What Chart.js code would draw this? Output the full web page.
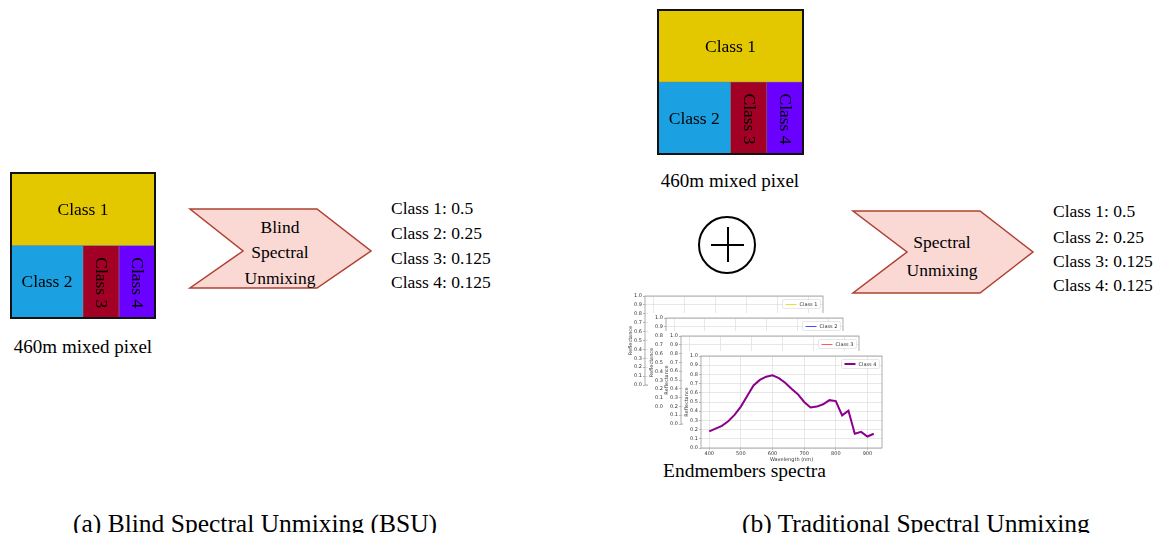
<!DOCTYPE html>
<html>
<head>
<meta charset="utf-8">
<script src="https://cdn.jsdelivr.net/npm/chart.js@4/dist/chart.umd.min.js"></script>
<style>
  html, body { margin: 0; padding: 0; background: #fff; }
  #page { position: relative; width: 1157px; height: 533px; overflow: hidden; background: #fff; }
  #art { position: absolute; left: 0; top: 0; }
  .box { position: absolute; }
  .spec { position: absolute; background: #fff; }
  .serif { font-family: "Liberation Serif", "Times New Roman", serif; fill: #000; }
</style>
</head>
<body>
<div id="page">
  <svg id="art" width="1157" height="533">
    <!-- unmixing arrows -->
    <polygon points="190,209 317,209 371,251 317,288 190,288 243,251" fill="#fad9d5" stroke="#ae4132" stroke-width="1.5"/>
    <polygon points="853,211 980,211 1033,252 980,293 853,293 907,252" fill="#fad9d5" stroke="#ae4132" stroke-width="1.5"/>
    <!-- combination symbol -->
    <circle cx="727" cy="245" r="28" fill="none" stroke="#000" stroke-width="2"/>
    <line x1="711" y1="245" x2="744" y2="245" stroke="#000" stroke-width="2"/>
    <line x1="728" y1="227" x2="728" y2="262" stroke="#000" stroke-width="2"/>

    <g class="serif" font-size="17.5">
      <text x="280" y="233" text-anchor="middle">Blind</text>
      <text x="280" y="258" text-anchor="middle">Spectral</text>
      <text x="280" y="284" text-anchor="middle">Unmixing</text>
      <text x="942" y="248" text-anchor="middle">Spectral</text>
      <text x="942" y="276" text-anchor="middle">Unmixing</text>
    </g>
    <g class="serif" font-size="17.5" id="listA"></g>
    <g class="serif" font-size="17.5" id="listB"></g>
    <g class="serif" font-size="19">
      <text x="83" y="353" text-anchor="middle">460m mixed pixel</text>
      <text x="730" y="187" text-anchor="middle">460m mixed pixel</text>
    </g>
    <text class="serif" font-size="19.5" x="663" y="477">Endmembers spectra</text>
    <g class="serif" font-size="25.5">
      <text x="73" y="532">(a) Blind Spectral Unmixing (BSU)</text>
      <text x="742" y="532">(b) Traditional Spectral Unmixing</text>
    </g>
  </svg>

  <div class="box" style="left:9px;top:171px;width:148px;height:149px"><canvas id="pixelA"></canvas></div>
  <div class="box" style="left:656px;top:8px;width:149px;height:148px"><canvas id="pixelB"></canvas></div>

  <div class="spec" style="left:627px;top:291px;width:208px;height:109px"><canvas id="spec1"></canvas></div>
  <div class="spec" style="left:648px;top:313px;width:207px;height:109px"><canvas id="spec2"></canvas></div>
  <div class="spec" style="left:663px;top:331px;width:208px;height:108px"><canvas id="spec3"></canvas></div>
  <div class="spec" style="left:683px;top:351px;width:211px;height:112px"><canvas id="spec4"></canvas></div>
</div>

<script>
// ---- data ----
const classNames = ['Class 1', 'Class 2', 'Class 3', 'Class 4'];
const abundances = [0.5, 0.25, 0.125, 0.125];
const tileRow = [0, 1, 1, 1];            // row of the pixel tile each class occupies

const wavelengths = [400, 420, 440, 460, 480, 500, 520, 540, 560, 580, 600, 620, 640, 660,
                     680, 700, 720, 740, 760, 780, 800, 820, 840, 860, 880, 900, 920];
const class4Reflectance = [0.18, 0.21, 0.24, 0.29, 0.36, 0.45, 0.565, 0.68, 0.74, 0.775, 0.79,
                           0.76, 0.71, 0.645, 0.585, 0.50, 0.44, 0.45, 0.475, 0.52, 0.51,
                           0.355, 0.405, 0.155, 0.175, 0.125, 0.155];
const class1Reflectance = [];
const class2Reflectance = [];
const class3Reflectance = [];

const wavelengthTicks = [400, 500, 600, 700, 800, 900];
const reflectanceTicks = [0, 0.1, 0.2, 0.3, 0.4, 0.5, 0.6, 0.7, 0.8, 0.9, 1.0];

// ---- abundance lists beside the arrows ----
function writeList(id, x, baselines) {
  const g = document.getElementById(id);
  classNames.forEach((name, i) => {
    const t = document.createElementNS('http://www.w3.org/2000/svg', 'text');
    t.setAttribute('x', x);
    t.setAttribute('y', baselines[i]);
    t.textContent = name + ': ' + abundances[i];
    g.appendChild(t);
  });
}
writeList('listA', 391, [214, 239, 264, 288]);
writeList('listB', 1053, [217, 243, 267, 291]);

Chart.defaults.font.family = 'DejaVu Sans';

// ---- mixed pixel tile: one stacked bar per row, widths = abundances ----
const tileColors = ['#e3c800', '#1ba1e2', '#a20025', '#6a00ff'];

const tileLabels = {
  id: 'tileLabels',
  afterDatasetsDraw(chart, args, opts) {
    const ctx = chart.ctx;
    ctx.save();
    ctx.font = opts.font;
    ctx.fillStyle = '#000';
    ctx.textAlign = 'center';
    ctx.textBaseline = 'middle';
    chart.data.datasets.forEach((ds, i) => {
      const meta = chart.getDatasetMeta(i);
      meta.data.forEach((bar, j) => {
        if (ds.data[j] == null) return;
        const p = bar.getProps(['x', 'y', 'base'], true);
        const cx = (p.x + p.base) / 2;
        const w = Math.abs(p.x - p.base);
        const tw = ctx.measureText(ds.label).width;
        ctx.save();
        ctx.translate(cx, p.y + 1);
        if (tw > w - 6) ctx.rotate(Math.PI / 2);
        ctx.fillText(ds.label, 0, 0);
        ctx.restore();
      });
    });
    const a = chart.chartArea;
    ctx.lineWidth = 2;
    ctx.strokeStyle = '#111';
    ctx.strokeRect(a.left, a.top, a.width, a.height);
    ctx.restore();
  }
};

function rowSum(r) {
  return abundances.reduce((s, v, i) => s + (tileRow[i] === r ? v : 0), 0);
}

function pixelTile(canvasId) {
  const rows = [0, 1];
  return new Chart(document.getElementById(canvasId), {
    type: 'bar',
    data: {
      labels: ['upper', 'lower'],
      datasets: classNames.map((name, i) => ({
        label: name,
        data: rows.map(r => (tileRow[i] === r ? abundances[i] : null)),
        backgroundColor: tileColors[i],
        borderColor: 'rgba(0,0,0,0.45)',
        borderWidth: 0.6,
        borderSkipped: false,
        barPercentage: 1,
        categoryPercentage: 1
      }))
    },
    options: {
      indexAxis: 'y',
      responsive: true,
      maintainAspectRatio: false,
      animation: false,
      devicePixelRatio: 1,
      layout: { padding: 2 },
      scales: {
        x: { stacked: true, display: false, min: 0, max: Math.max(rowSum(0), rowSum(1)) },
        y: { stacked: true, display: false }
      },
      plugins: {
        legend: { display: false },
        tooltip: { enabled: false },
        tileLabels: { font: '17.5px "Liberation Serif", "Times New Roman", serif' }
      }
    },
    plugins: [tileLabels]
  });
}
pixelTile('pixelA');
pixelTile('pixelB');

// ---- endmember spectra panels ----
// frame around the plot area plus a small legend box in its upper right corner
const panelFrame = {
  id: 'panelFrame',
  afterDraw(chart) {
    const a = chart.chartArea;
    const ctx = chart.ctx;
    ctx.save();
    ctx.strokeStyle = '#9a9a9a';
    ctx.lineWidth = 0.8;
    ctx.strokeRect(a.left, a.top, a.width, a.height);

    const ds = chart.data.datasets[0];
    ctx.font = '5px "DejaVu Sans"';
    const tw = ctx.measureText(ds.label).width;
    const sample = 11, gap = 3, pad = 3, h = 9;
    const w = pad + sample + gap + tw + pad;
    const x0 = Math.round(a.right - 3 - w) + 0.5, y0 = Math.round(a.top + 3) + 0.5;
    ctx.fillStyle = 'rgba(255,255,255,0.9)';
    ctx.strokeStyle = '#d6d6d6';
    ctx.lineWidth = 0.6;
    ctx.beginPath();
    ctx.roundRect(x0, y0, w, h, 1.5);
    ctx.fill();
    ctx.stroke();
    const ly = Math.floor(y0 + h / 2) + (ds.borderWidth % 2 ? 0.5 : 0);
    ctx.strokeStyle = ds.borderColor;
    ctx.lineWidth = Math.max(1, ds.borderWidth);
    ctx.beginPath();
    ctx.moveTo(x0 + pad, ly);
    ctx.lineTo(x0 + pad + sample, ly);
    ctx.stroke();
    ctx.fillStyle = '#333';
    ctx.textBaseline = 'middle';
    ctx.fillText(ds.label, x0 + pad + sample + gap, y0 + h / 2 + 0.5);
    ctx.restore();
  }
};

function spectrumPanel(canvasId, label, values, color, lineWidth) {
  const tickFont = { size: 5, family: 'DejaVu Sans' };
  return new Chart(document.getElementById(canvasId), {
    type: 'line',
    data: {
      datasets: [{
        label: label,
        data: values.map((v, i) => ({ x: wavelengths[i], y: v })),
        borderColor: color,
        backgroundColor: color,
        borderWidth: lineWidth,
        pointRadius: 0,
        tension: 0,
        fill: false
      }]
    },
    options: {
      responsive: true,
      maintainAspectRatio: false,
      animation: false,
      devicePixelRatio: 1,
      layout: { padding: { top: 5, right: 12, left: 0, bottom: 0 } },
      scales: {
        x: {
          type: 'linear', min: 374, max: 946,
          afterBuildTicks: s => { s.ticks = wavelengthTicks.map(v => ({ value: v })); },
          afterFit: s => { s.height = 15; },
          ticks: { font: tickFont, color: '#333', padding: 1, maxRotation: 0, autoSkip: false },
          grid: { color: '#dcdcdc', lineWidth: 0.7, tickLength: 2, tickColor: '#888', tickWidth: 0.6 },
          border: { display: false },
          title: { display: true, text: 'Wavelength (nm)', font: tickFont, color: '#333', padding: 0 }
        },
        y: {
          min: 0, max: 1,
          afterBuildTicks: s => { s.ticks = reflectanceTicks.map(v => ({ value: v })); },
          afterFit: s => { s.width = 18; },
          ticks: { font: tickFont, color: '#333', padding: 1, autoSkip: false, callback: v => v.toFixed(1) },
          grid: { color: '#dcdcdc', lineWidth: 0.7, tickLength: 2, tickColor: '#888', tickWidth: 0.6 },
          border: { display: false },
          title: { display: true, text: 'Reflectance', font: tickFont, color: '#333', padding: 1 }
        }
      },
      plugins: {
        legend: { display: false },
        tooltip: { enabled: false }
      }
    },
    plugins: [panelFrame]
  });
}

spectrumPanel('spec1', classNames[0], class1Reflectance, '#e8e030', 1);
spectrumPanel('spec2', classNames[1], class2Reflectance, '#4a4aff', 1);
spectrumPanel('spec3', classNames[2], class3Reflectance, '#ff5a5a', 1);
spectrumPanel('spec4', classNames[3], class4Reflectance, '#8b008b', 2);
</script>
</body>
</html>
